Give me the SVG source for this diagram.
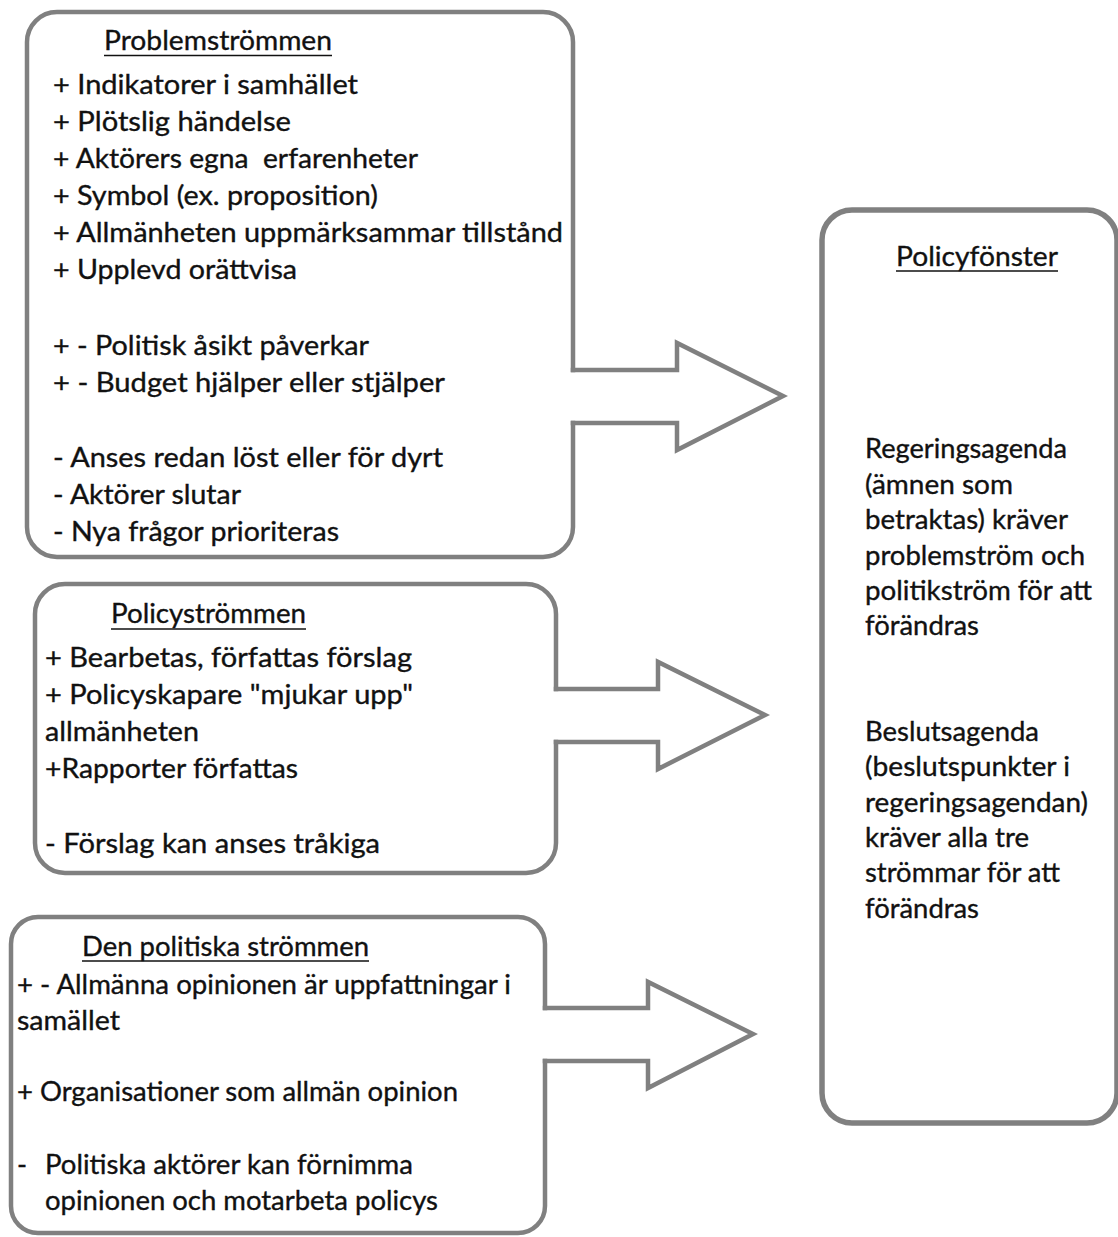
<svg xmlns="http://www.w3.org/2000/svg" width="1118" height="1237" viewBox="0 0 1118 1237">
<style>
.frame{fill:none;stroke:#808080;stroke-width:4.5;stroke-linecap:square;stroke-linejoin:miter}
.t{font-family:Lato,"Open Sans","Liberation Sans",sans-serif;font-size:27px;fill:#111;stroke:#111;stroke-width:0.35}
.ul{stroke:#111;stroke-width:1.6}
</style>
<rect width="1118" height="1237" fill="#fff"/>
<g id="problemstrommen">
<path class="frame" d="M573 423 V527 A30 30 0 0 1 543 557 H57 A30 30 0 0 1 27 527 V42 A30 30 0 0 1 57 12 H543 A30 30 0 0 1 573 42 V370"/>
<text class="t" x="104" y="50" textLength="228" lengthAdjust="spacingAndGlyphs">Problemströmmen</text>
<line class="ul" x1="104" y1="55.5" x2="332" y2="55.5"/>
<text class="t" x="53" y="94" textLength="305" lengthAdjust="spacingAndGlyphs">+ Indikatorer i samhället</text>
<text class="t" x="53" y="131" textLength="238" lengthAdjust="spacingAndGlyphs">+ Plötslig händelse</text>
<text class="t" x="53" y="168" textLength="365" lengthAdjust="spacingAndGlyphs" xml:space="preserve">+ Aktörers egna  erfarenheter</text>
<text class="t" x="53" y="205" textLength="325" lengthAdjust="spacingAndGlyphs">+ Symbol (ex. proposition)</text>
<text class="t" x="53" y="242" textLength="510" lengthAdjust="spacingAndGlyphs">+ Allmänheten uppmärksammar tillstånd</text>
<text class="t" x="53" y="279" textLength="244" lengthAdjust="spacingAndGlyphs">+ Upplevd orättvisa</text>
<text class="t" x="53" y="355" textLength="316" lengthAdjust="spacingAndGlyphs">+ - Politisk åsikt påverkar</text>
<text class="t" x="53" y="392" textLength="392" lengthAdjust="spacingAndGlyphs">+ - Budget hjälper eller stjälper</text>
<text class="t" x="53" y="467" textLength="390" lengthAdjust="spacingAndGlyphs">- Anses redan löst eller för dyrt</text>
<text class="t" x="53" y="504" textLength="188" lengthAdjust="spacingAndGlyphs">- Aktörer slutar</text>
<text class="t" x="53" y="541" textLength="286" lengthAdjust="spacingAndGlyphs">- Nya frågor prioriteras</text>
</g>
<g id="policystrommen">
<path class="frame" d="M556 742 V843 A30 30 0 0 1 526 873 H65 A30 30 0 0 1 35 843 V614 A30 30 0 0 1 65 584 H526 A30 30 0 0 1 556 614 V689"/>
<text class="t" x="111" y="623" textLength="195" lengthAdjust="spacingAndGlyphs">Policyströmmen</text>
<line class="ul" x1="111" y1="629" x2="306" y2="629"/>
<text class="t" x="45" y="667" textLength="367" lengthAdjust="spacingAndGlyphs">+ Bearbetas, författas förslag</text>
<text class="t" x="45" y="704" textLength="368" lengthAdjust="spacingAndGlyphs">+ Policyskapare "mjukar upp"</text>
<text class="t" x="45" y="741" textLength="154" lengthAdjust="spacingAndGlyphs">allmänheten</text>
<text class="t" x="45" y="778" textLength="253" lengthAdjust="spacingAndGlyphs">+Rapporter författas</text>
<text class="t" x="45" y="853" textLength="335" lengthAdjust="spacingAndGlyphs">- Förslag kan anses tråkiga</text>
</g>
<g id="politiska-strommen">
<path class="frame" d="M545 1061 V1206 A27 27 0 0 1 518 1233 H38 A27 27 0 0 1 11 1206 V944 A27 27 0 0 1 38 917 H518 A27 27 0 0 1 545 944 V1008"/>
<text class="t" x="82" y="956" textLength="287" lengthAdjust="spacingAndGlyphs">Den politiska strömmen</text>
<line class="ul" x1="82" y1="961" x2="369" y2="961"/>
<text class="t" x="17" y="994" textLength="494" lengthAdjust="spacingAndGlyphs">+ - Allmänna opinionen är uppfattningar i</text>
<text class="t" x="17" y="1030" textLength="103" lengthAdjust="spacingAndGlyphs">samället</text>
<text class="t" x="17" y="1101" textLength="441" lengthAdjust="spacingAndGlyphs">+ Organisationer som allmän opinion</text>
<text class="t" x="17" y="1174">-</text>
<text class="t" x="45" y="1174" textLength="368" lengthAdjust="spacingAndGlyphs">Politiska aktörer kan förnimma</text>
<text class="t" x="45" y="1210" textLength="393" lengthAdjust="spacingAndGlyphs">opinionen och motarbeta policys</text>
</g>
<g id="policyfonster">
<rect class="frame" x="822" y="210" width="295" height="913" rx="30" ry="30" style="stroke-width:5.5"/>
<text class="t" x="896" y="266" textLength="162" lengthAdjust="spacingAndGlyphs">Policyfönster</text>
<line class="ul" x1="896" y1="271" x2="1058" y2="271"/>
<text class="t" x="865" y="458" textLength="202" lengthAdjust="spacingAndGlyphs">Regeringsagenda</text>
<text class="t" x="865" y="494" textLength="148" lengthAdjust="spacingAndGlyphs">(ämnen som</text>
<text class="t" x="865" y="529" textLength="203" lengthAdjust="spacingAndGlyphs">betraktas) kräver</text>
<text class="t" x="865" y="565" textLength="220" lengthAdjust="spacingAndGlyphs">problemström och</text>
<text class="t" x="865" y="600" textLength="227" lengthAdjust="spacingAndGlyphs">politikström för att</text>
<text class="t" x="865" y="635" textLength="114" lengthAdjust="spacingAndGlyphs">förändras</text>
<text class="t" x="865" y="741" textLength="174" lengthAdjust="spacingAndGlyphs">Beslutsagenda</text>
<text class="t" x="865" y="776" textLength="205" lengthAdjust="spacingAndGlyphs">(beslutspunkter i</text>
<text class="t" x="865" y="812" textLength="223" lengthAdjust="spacingAndGlyphs">regeringsagendan)</text>
<text class="t" x="865" y="847" textLength="164" lengthAdjust="spacingAndGlyphs">kräver alla tre</text>
<text class="t" x="865" y="882" textLength="195" lengthAdjust="spacingAndGlyphs">strömmar för att</text>
<text class="t" x="865" y="918" textLength="114" lengthAdjust="spacingAndGlyphs">förändras</text>
</g>
<g id="connectors">
<path class="frame" d="M573 370 H677 V343 L783 396 L677 450 V423 H573"/>
<path class="frame" d="M556 689 H658 V662 L765 715 L658 769 V742 H556"/>
<path class="frame" d="M545 1008 H648 V982 L753 1034 L648 1088 V1061 H545"/>
</g>
</svg>
